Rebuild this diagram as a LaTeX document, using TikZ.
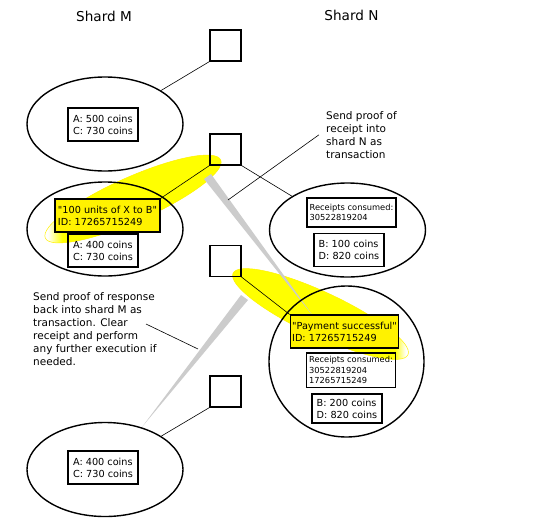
\documentclass[tikz,border=0pt]{standalone}
\usepackage{fontspec}
\setmainfont{DejaVu Sans}
\usetikzlibrary{shapes.geometric}
\pgfdeclarehorizontalshading{fadeleft}{100bp}{color(0bp)=(white); color(27bp)=(white); color(31bp)=(yellow); color(100bp)=(yellow)}
\pgfdeclarehorizontalshading{faderight}{100bp}{color(0bp)=(yellow); color(70bp)=(yellow); color(73bp)=(white); color(100bp)=(white)}

\begin{document}
\begin{tikzpicture}[
    x=1pt, y=-1pt,
    title/.style={font=\fontsize{13.6}{16}\selectfont, anchor=base},
    state/.style={draw, ellipse, line width=1.4pt, minimum width=156pt, minimum height=94pt},
    block/.style={draw, line width=1.1pt, minimum size=31pt, inner sep=0pt},
    coins/.style={draw, line width=1.1pt, align=left, font=\fontsize{9.7}{12}\selectfont, minimum width=70pt, minimum height=33pt, inner xsep=4pt},
    msg/.style={draw, line width=1.1pt, fill=yellow, align=left, font=\fontsize{9.7}{12}\selectfont, minimum width=105pt, minimum height=33pt, inner xsep=2pt},
    receipts/.style={draw, line width=1.1pt, align=left, font=\fontsize{8.3}{10.5}\selectfont, minimum width=89pt, inner xsep=2pt},
    note/.style={align=left, font=\fontsize{10.5}{13}\selectfont, inner sep=0pt, anchor=north west},
    link/.style={line width=0.6pt},
    wedge/.style={fill=gray!40},
    glow/.style={draw=yellow, line width=0.5pt},
]
    \fill[white] (0,0) rectangle (548,522);
    \useasboundingbox (0,0) rectangle (548,522);

    % highlights
    \shade[glow, shading=fadeleft, rotate around={24:(133,199)}] (133,199) ellipse [x radius=96, y radius=22];
    \shade[glow, shading=faderight, rotate around={-25:(320.5,314)}] (320.5,314) ellipse [x radius=96.5, y radius=22];

    \fill[wedge] (204,179) -- (211,174) -- (313,316) -- cycle;
    \fill[wedge] (241,295) -- (248,300) -- (142,427) -- cycle;

    \node[title] (shardM) at (104,21) {Shard M};
    \node[title] (shardN) at (351.5,20) {Shard N};

    \node[block] (blk1) at (225.5,45.5) {};
    \node[block] (blk2) at (225.5,149.5) {};
    \node[block] (blk3) at (225.5,261) {};
    \node[block] (blk4) at (225.5,391.5) {};

    \node[state] (stateM1) at (105,124) {};
    \node[state] (stateM2) at (105,229) {};
    \node[state] (stateM3) at (105,469.5) {};
    \node[state] (stateN1) at (347.5,230) {};
    \node[state, minimum height=151pt, minimum width=155pt] (stateN2) at (346.5,361.5) {};

    \node[coins] (coinsM1) at (103,124.5) {A: 500 coins\\C: 730 coins};
    \node[msg] (msgM) at (107.5,215.5) {\textquotedbl 100 units of X to B\textquotedbl\\ID: 17265715249};
    \node[coins] (coinsM2) at (103,250.5) {A: 400 coins\\C: 730 coins};
    \node[coins] (coinsM3) at (103,467.5) {A: 400 coins\\C: 730 coins};

    \node[receipts, minimum height=29pt] (rcptN1) at (351.5,212.5) {Receipts consumed:\\30522819204};
    \node[coins] (coinsN1) at (349,250) {B: 100 coins\\D: 820 coins};
    \node[msg] (msgN) at (344.5,331.5) {\textquotedbl Payment successful\textquotedbl\\ID: 17265715249};
    \node[receipts, minimum height=34pt] (rcptN2) at (351,370) {Receipts consumed:\\30522819204\\17265715249};
    \node[coins, minimum height=29pt] (coinsN2) at (347,408.5) {B: 200 coins\\D: 820 coins};

    \node[note] (note1) at (326,111) {Send proof of\\receipt into\\shard N as\\transaction};
    \node[note] (note2) at (33,292) {Send proof of response\\back into shard M as\\transaction. Clear\\receipt and perform\\any further execution if\\needed.};
    \coordinate (note1end) at (228,200);
    \coordinate (note2start) at (146,324);
    \coordinate (note2end) at (198,349);

    \draw[link] (blk1.south west) -- (stateM1);
    \draw[link] (blk2.south west) -- (msgM.north east);
    \draw[link] (blk2.south east) -- (stateN1);
    \draw[link] (blk3.south east) -- (msgN.north west);
    \draw[link] (blk4.south west) -- (stateM3);
    \draw[link] ([xshift=-7pt]note1.west) -- (note1end);
    \draw[link] (note2start) -- (note2end);
\end{tikzpicture}
\end{document}
